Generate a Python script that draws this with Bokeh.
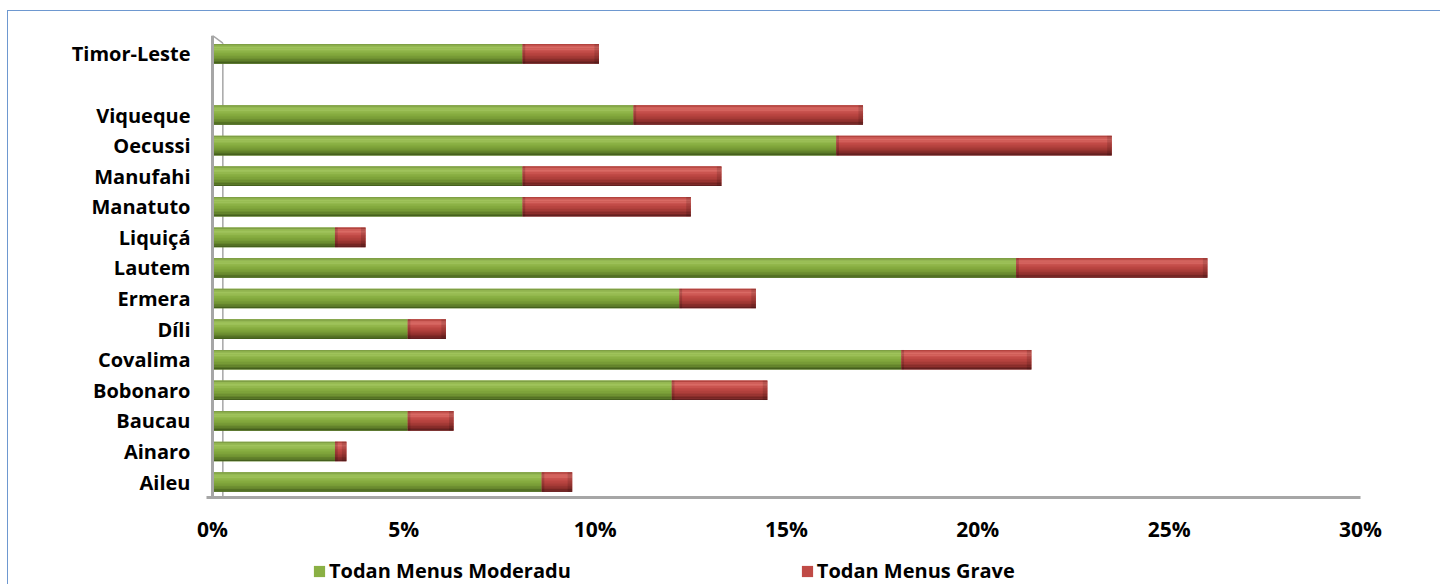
from bokeh.plotting import figure
from bokeh.models import FixedTicker, PrintfTickFormatter, Legend, LegendItem, Range1d
from bokeh.embed import file_html
from bokeh.resources import INLINE

# ---- data ----
regions = ["Aileu", "Ainaro", "Baucau", "Bobonaro", "Covalima", "Díli", "Ermera",
           "Lautem", "Liquiçá", "Manatuto", "Manufahi", "Oecussi", "Viqueque", "Timor-Leste"]
row_pos = [0, 1, 2, 3, 4, 5, 6, 7, 8, 9, 10, 11, 12, 14]
moderadu = [8.6, 3.2, 5.1, 12.0, 18.0, 5.1, 12.2, 21.0, 3.2, 8.1, 8.1, 16.3, 11.0, 8.1]
grave = [0.8, 0.3, 1.2, 2.5, 3.4, 1.0, 2.0, 5.0, 0.8, 4.4, 5.2, 7.2, 6.0, 2.0]
x_ticks = [0, 5, 10, 15, 20, 25, 30]
series_names = ["Todan Menus Moderadu", "Todan Menus Grave"]

# ---- style ----
FONT = "Open Sans"
BAR_H = 0.64
FLOOR = -0.52
TOP = 14.6
WALL = 0.27
CAP = 0.12
green_shades = ["#7f9f45", "#94b753", "#9fc35b", "#9cc058", "#93b84d", "#8ab044", "#84aa3e",
                "#7ea33a", "#779b36", "#6e9031", "#63832b", "#557224", "#45601d"]
red_shades = ["#b3443f", "#cf5f5a", "#d96a64", "#d4625d", "#c9534f", "#c04a46", "#b84440",
              "#b0403c", "#a53a36", "#983431", "#882d2a", "#762523", "#632020"]

p = figure(width=1440, height=584, output_backend="svg", toolbar_location=None,
           x_range=Range1d(-3.972, 31.045), y_range=Range1d(-3.35, TOP),
           min_border_left=60, min_border_right=40, min_border_top=35, min_border_bottom=0)
p.outline_line_color = None
p.grid.grid_line_color = None
p.background_fill_color = "white"
p.border_fill_color = None
p.styles = {
    "background": "linear-gradient(#6e98d0, #6e98d0) 7px 10px / 1px 100% no-repeat, "
                  "linear-gradient(#6e98d0, #6e98d0) 7px 10px / 100% 1px no-repeat, white"
}

# 3-D wall (inner edge + slanted top)
p.segment(x0=[WALL, 0], y0=[FLOOR, TOP], x1=[WALL, WALL], y1=[TOP - 0.25, TOP - 0.25],
          line_color="#a6a6a6", line_width=1.5)

totals = [m + g for m, g in zip(moderadu, grave)]

base_g = p.hbar(y=row_pos, left=0, right=moderadu, height=BAR_H,
                fill_color="#8ab044", line_color=None)
base_r = p.hbar(y=row_pos, left=moderadu, right=totals, height=BAR_H,
                fill_color="#c04a46", line_color=None)

n = len(green_shades)
sh = BAR_H / n
for k in range(n):
    off = BAR_H / 2 - sh * (k + 0.5)
    ys = [r + off for r in row_pos]
    p.hbar(y=ys, left=0, right=moderadu, height=sh * 1.05,
           fill_color=green_shades[k], line_color=None)
    p.hbar(y=ys, left=moderadu, right=totals, height=sh * 1.05,
           fill_color=red_shades[k], line_color=None)

# subtle cylinder end shading
cap_left = [t - CAP for t in totals]
p.hbar(y=row_pos, left=cap_left, right=totals, height=BAR_H,
       fill_color="black", fill_alpha=0.12, line_color=None)
p.hbar(y=row_pos, left=moderadu, right=[m + CAP * 0.6 for m in moderadu], height=BAR_H,
       fill_color="black", fill_alpha=0.15, line_color=None)

# axes
p.xaxis.fixed_location = FLOOR
p.xaxis.bounds = (-0.15, 30)
p.xaxis.ticker = FixedTicker(ticks=x_ticks)
p.xaxis.formatter = PrintfTickFormatter(format="%d%%")
p.xaxis.axis_line_color = "#a6a6a6"
p.xaxis.axis_line_width = 3
p.xaxis.major_tick_line_color = None
p.xaxis.minor_tick_line_color = None
p.xaxis.major_label_text_font = FONT
p.xaxis.major_label_text_font_style = "bold"
p.xaxis.major_label_text_font_size = "21px"
p.xaxis.major_label_text_color = "black"
p.xaxis.major_label_standoff = 11

p.yaxis.fixed_location = 0
p.yaxis.bounds = (FLOOR, TOP)
p.yaxis.ticker = FixedTicker(ticks=row_pos)
p.yaxis.major_label_overrides = {r: name for r, name in zip(row_pos, regions)}
p.yaxis.axis_line_color = "#a6a6a6"
p.yaxis.axis_line_width = 3
p.yaxis.major_tick_line_color = None
p.yaxis.minor_tick_line_color = None
p.yaxis.major_label_text_font = FONT
p.yaxis.major_label_text_font_style = "bold"
p.yaxis.major_label_text_font_size = "20px"
p.yaxis.major_label_text_color = "black"
p.yaxis.major_label_standoff = 16

legend = Legend(items=[LegendItem(label=series_names[0], renderers=[base_g]),
                       LegendItem(label=series_names[1], renderers=[base_r])],
                orientation="horizontal", location=(252, 0),
                label_text_font=FONT, label_text_font_style="bold",
                label_text_font_size="20px", label_text_color="black",
                glyph_width=14, glyph_height=14, label_standoff=3,
                spacing=229, padding=4, margin=0, border_line_color=None,
                background_fill_alpha=0)
p.add_layout(legend, "center")

open("out.html", "w").write(file_html(p, INLINE))
